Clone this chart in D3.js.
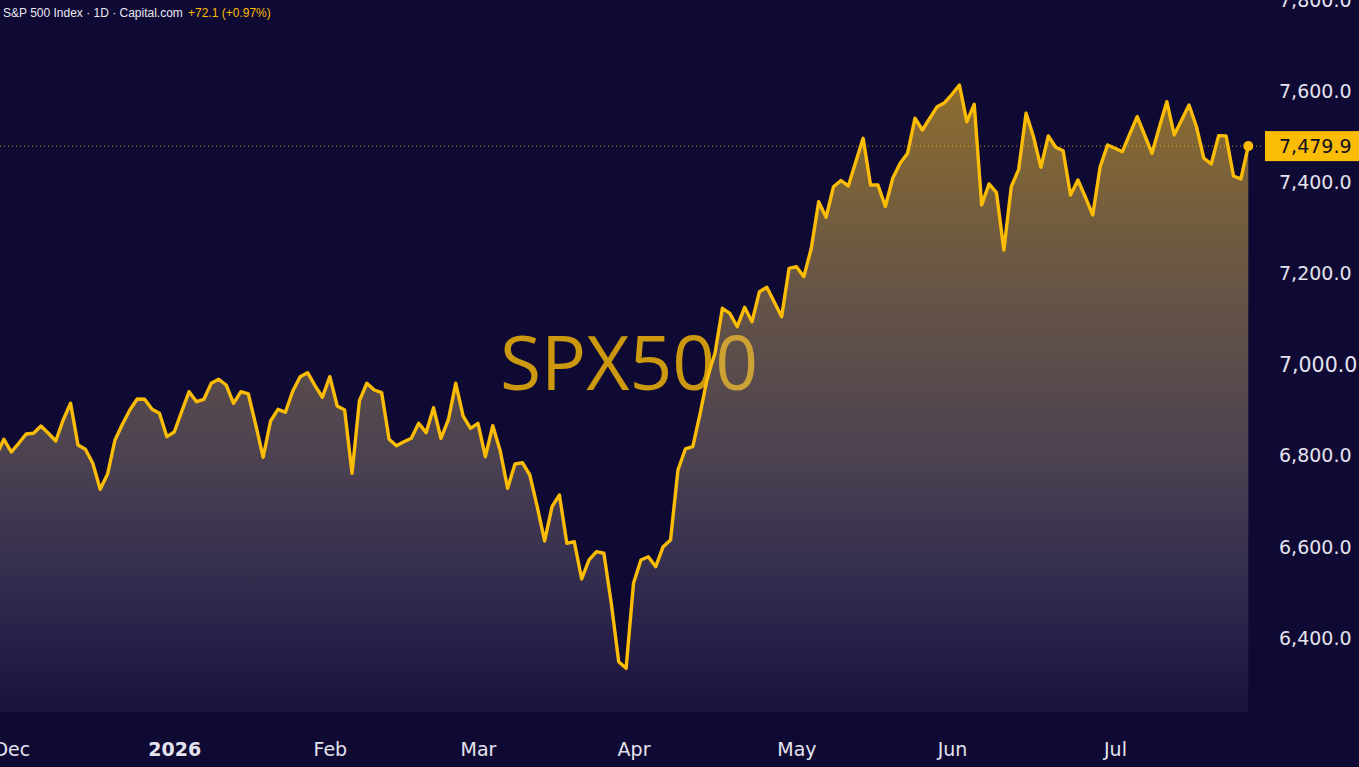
<!DOCTYPE html>
<html>
<head>
<meta charset="utf-8">
<script src="https://cdn.jsdelivr.net/npm/d3@7"></script>
<style>
  html, body { margin: 0; padding: 0; background: #0f0a34; overflow: hidden; }
  svg { display: block; }
</style>
</head>
<body>
<svg id="chart" width="1359" height="767"></svg>
<script>
// daily closes, late Nov 2025 -> late Jul 2026
var closes = [
  6802, 6836.4, 6808.5, 6827.6, 6848, 6849.6, 6865.6, 6849.6, 6832.7, 6878.8,
  6915.4, 6823.9, 6814.5, 6783.7, 6726.7, 6760.2, 6834.9, 6869.3, 6900.7, 6924.8,
  6924.2, 6902.2, 6893.5, 6842.1, 6852.4, 6897, 6940.9, 6918.9, 6924.2, 6959.3,
  6968.1, 6955.6, 6915.4, 6940.9, 6935.8, 6867.8, 6796.9, 6876.6, 6902.2, 6895.7,
  6942.4, 6973.8, 6982.6, 6954, 6928.6, 6973.8, 6909.5, 6900.7, 6761.8, 6921.1,
  6959.3, 6944.6, 6938.7, 6836.4, 6822.3, 6831.1, 6838.6, 6871.5, 6850.9, 6905.8,
  6838.6, 6878.8, 6959.3, 6887.5, 6860.5, 6871.5, 6798.2, 6866.2, 6811.4, 6728.9,
  6782.2, 6785, 6758, 6688.5, 6613.2, 6688.5, 6714.1, 6608.1, 6611.6, 6529.8,
  6571.5, 6589.7, 6586.2, 6476.4, 6348.3, 6333.8, 6520.3, 6571.5, 6578.7, 6556.8,
  6600.7, 6615.4, 6769, 6815.1, 6820.2, 6893.5, 6973.8, 7025.2, 7123.9, 7112.9,
  7083.5, 7126.1, 7094.5, 7160.4, 7170, 7137.8, 7105.5, 7211.7, 7215.2, 7193.3,
  7255.6, 7357.9, 7323.7, 7390.8, 7404.4, 7392.4, 7445, 7497.1, 7394.6, 7394.6,
  7347.4, 7409.3, 7442.2, 7464.1, 7541, 7515.3, 7541, 7566.4, 7575.2, 7593.6,
  7614, 7533.5, 7571.7, 7350.7, 7396.8, 7377.7, 7251.9, 7390.8, 7429, 7551.9,
  7500.6, 7433.4, 7502.1, 7477.3, 7469.8, 7372.6, 7405.5, 7368.2, 7328.7, 7434.7,
  7482.4, 7475.1, 7467.6, 7506.5, 7544.5, 7504.3, 7464.1, 7521.9, 7577.4, 7504.3,
  7537.2, 7570.1, 7522.5, 7453.2, 7440.7, 7502.8, 7502.1, 7414.3, 7407.8, 7479.9
];

// bar index of first session of each month + its label
var monthTickIdx    = [2, 24, 45, 65, 86, 108, 129, 151];
var monthTickLabels = ['Dec', '2026', 'Feb', 'Mar', 'Apr', 'May', 'Jun', 'Jul'];

var priceTicks = [6400, 6600, 6800, 7000, 7200, 7400, 7600, 7800];

var lastClose = 7479.9;
var change = 72.1, changePct = 0.97;
var symbol = 'SPX500';
var title = 'S&P 500 Index · 1D · Capital.com';

var gold = '#fbbc05';
var svg = d3.select('#chart');

var plotRight = 1262,
    plotBottom = 712;

var xScale = d3.scaleLinear()
  .domain([0, closes.length - 1])
  .range([-3.5, 1248.3]);

var yScale = d3.scaleLinear()
  .domain([6237.8, 7800.6])
  .range([plotBottom, 0]);

var defs = svg.append('defs');

defs.append('clipPath').attr('id', 'plot-clip')
  .append('rect')
  .attr('x', 0).attr('y', 0)
  .attr('width', plotRight).attr('height', plotBottom);

var grad = defs.append('linearGradient')
  .attr('id', 'area-grad')
  .attr('gradientUnits', 'userSpaceOnUse')
  .attr('x1', 0).attr('x2', 0)
  .attr('y1', yScale(d3.max(closes))).attr('y2', plotBottom);
grad.append('stop').attr('offset', 0).attr('stop-color', 'rgb(245,190,40)').attr('stop-opacity', 0.55);
grad.append('stop').attr('offset', 0.58).attr('stop-color', 'rgb(192,173,132)').attr('stop-opacity', 0.35);
grad.append('stop').attr('offset', 1).attr('stop-color', 'rgb(200,190,230)').attr('stop-opacity', 0.05);

// background
svg.append('rect')
  .attr('width', 1359).attr('height', 767)
  .attr('fill', '#0f0a34');

var plot = svg.append('g').attr('clip-path', 'url(#plot-clip)');

// watermark
plot.append('text')
  .attr('x', 629).attr('y', 390)
  .attr('text-anchor', 'middle')
  .attr('font-family', '"Open Sans", sans-serif')
  .attr('font-size', 75)
  .attr('fill', gold)
  .attr('fill-opacity', 0.8)
  .text(symbol);

var area = d3.area()
  .x(function(d, i) { return xScale(i); })
  .y0(plotBottom)
  .y1(function(d) { return yScale(d); });

var line = d3.line()
  .x(function(d, i) { return xScale(i); })
  .y(function(d) { return yScale(d); });

plot.append('path')
  .datum(closes)
  .attr('d', area)
  .attr('fill', 'url(#area-grad)');

// last price dotted line
plot.append('line')
  .attr('x1', 0).attr('x2', plotRight)
  .attr('y1', yScale(lastClose)).attr('y2', yScale(lastClose))
  .attr('stroke', gold)
  .attr('stroke-width', 1)
  .attr('stroke-dasharray', '1,3')
  .attr('opacity', 0.8);

plot.append('path')
  .datum(closes)
  .attr('d', line)
  .attr('fill', 'none')
  .attr('stroke', gold)
  .attr('stroke-width', 3.4)
  .attr('stroke-linejoin', 'round');

plot.append('circle')
  .attr('cx', xScale(closes.length - 1))
  .attr('cy', yScale(lastClose))
  .attr('r', 5)
  .attr('fill', gold);

// x axis (months)
var xAxis = d3.axisBottom(xScale)
  .tickValues(monthTickIdx)
  .tickSize(0)
  .tickFormat(function(d, i) { return monthTickLabels[i]; });

var gx = svg.append('g')
  .attr('class', 'x axis')
  .attr('transform', 'translate(0,' + plotBottom + ')')
  .call(xAxis);
gx.select('.domain').remove();
gx.selectAll('.tick text')
  .attr('y', 37)
  .attr('dy', '0.35em')
  .attr('fill', '#e4e3ee')
  .attr('font-family', '"DejaVu Sans", sans-serif')
  .attr('font-size', 19)
  .attr('font-weight', function(d, i) { return monthTickLabels[i] === '2026' ? 'bold' : 'normal'; });

// y axis (price, right side)
var yAxis = d3.axisRight(yScale)
  .tickValues(priceTicks)
  .tickSize(0)
  .tickPadding(0)
  .tickFormat(d3.format(',.1f'));

var gy = svg.append('g')
  .attr('class', 'y axis')
  .attr('transform', 'translate(1279,0)')
  .call(yAxis);
gy.select('.domain').remove();
gy.selectAll('.tick text')
  .attr('fill', '#e4e3ee')
  .attr('font-family', '"DejaVu Sans", sans-serif')
  .attr('font-size', function(d) { return d === 7000 ? 20.5 : 19; });

// last price label
var ly = yScale(lastClose);
svg.append('rect')
  .attr('x', 1265).attr('y', ly - 15)
  .attr('width', 94).attr('height', 30)
  .attr('fill', gold);
svg.append('text')
  .attr('x', 1279).attr('y', ly)
  .attr('dy', '0.35em')
  .attr('fill', '#120d20')
  .attr('font-family', '"DejaVu Sans", sans-serif')
  .attr('font-size', 19)
  .text(d3.format(',.1f')(lastClose));

// header
svg.append('text')
  .attr('x', 3).attr('y', 17)
  .attr('fill', '#e8e8f0')
  .attr('font-family', '"Liberation Sans", sans-serif')
  .attr('font-size', 12)
  .text(title);
svg.append('text')
  .attr('x', 188).attr('y', 17)
  .attr('fill', gold)
  .attr('font-family', '"Liberation Sans", sans-serif')
  .attr('font-size', 12)
  .text('+' + change.toFixed(1) + ' (+' + changePct.toFixed(2) + '%)');
</script>
</body>
</html>
